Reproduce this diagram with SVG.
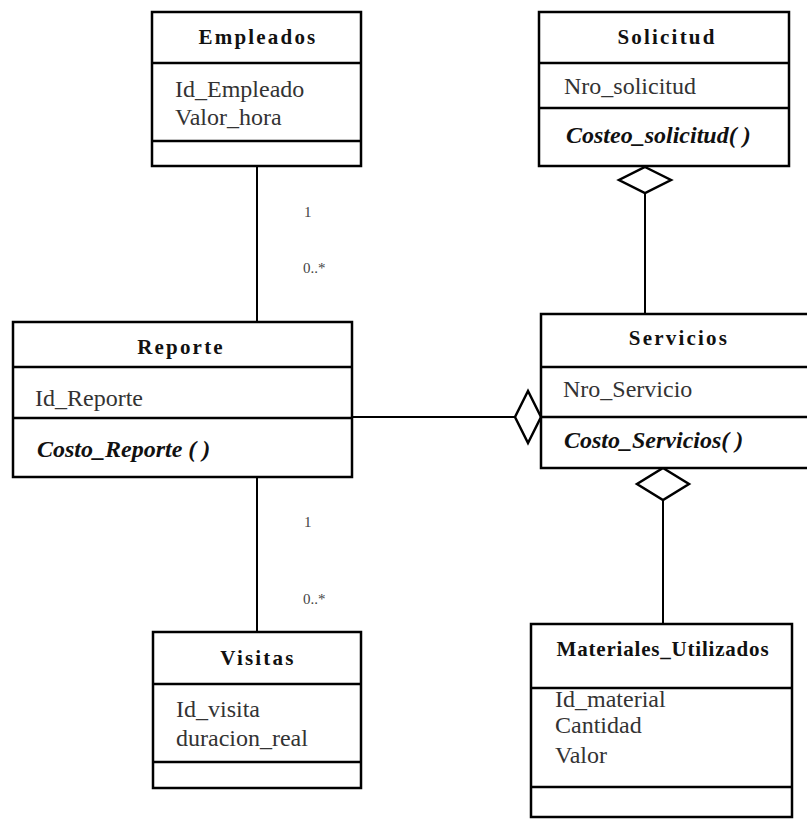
<svg xmlns="http://www.w3.org/2000/svg" width="807" height="819" viewBox="0 0 807 819">
<style>
.box{fill:#fff;stroke:#000;stroke-width:2.5}
.sep{stroke:#000;stroke-width:2.5}
.ln{stroke:#000;stroke-width:2;fill:none}
.dia{fill:#fff;stroke:#000;stroke-width:2.5}
.title{font-family:"Liberation Serif",serif;font-size:21px;font-weight:bold;letter-spacing:2.2px;text-anchor:middle;fill:#111}
.attr{font-family:"Liberation Serif",serif;font-size:24px;fill:#333}
.meth{font-family:"Liberation Serif",serif;font-size:24px;font-weight:bold;font-style:italic;fill:#111}
.mult{font-family:"Liberation Serif",serif;font-size:15px;fill:#444}
</style>
<rect width="807" height="819" fill="#fff"/>
<g id="connectors">
<line class="ln" x1="257" y1="166" x2="257" y2="322"/>
<line class="ln" x1="257" y1="477" x2="257" y2="632"/>
<line class="ln" x1="645" y1="192" x2="645" y2="314"/>
<line class="ln" x1="352" y1="417" x2="515" y2="417"/>
<line class="ln" x1="663" y1="500" x2="663" y2="624"/>
<polygon class="dia" points="645,167 671,180 645,193 619,180"/>
<polygon class="dia" points="515,417 528,391 541,417 528,443"/>
<polygon class="dia" points="663,468 689,484 663,500 637,484"/>
<text class="mult" x="304" y="217">1</text>
<text class="mult" x="303" y="273">0..*</text>
<text class="mult" x="304" y="527">1</text>
<text class="mult" x="303" y="604">0..*</text>
</g>
<g id="Empleados">
<rect class="box" x="152" y="12" width="209" height="154"/>
<line class="sep" x1="152" y1="63" x2="361" y2="63"/>
<line class="sep" x1="152" y1="141" x2="361" y2="141"/>
<text class="title" x="258" y="44">Empleados</text>
<text class="attr" x="175" y="97">Id_Empleado</text>
<text class="attr" x="175" y="125">Valor_hora</text>
</g>
<g id="Solicitud">
<rect class="box" x="539" y="12" width="250" height="154"/>
<line class="sep" x1="539" y1="63" x2="789" y2="63"/>
<line class="sep" x1="539" y1="108" x2="789" y2="108"/>
<text class="title" x="667" y="44">Solicitud</text>
<text class="attr" x="564" y="94">Nro_solicitud</text>
<text class="meth" x="566" y="143">Costeo_solicitud(  )</text>
</g>
<g id="Reporte">
<rect class="box" x="13" y="322" width="339" height="155"/>
<line class="sep" x1="13" y1="367" x2="352" y2="367"/>
<line class="sep" x1="13" y1="418" x2="352" y2="418"/>
<text class="title" x="181" y="354">Reporte</text>
<text class="attr" x="35" y="406">Id_Reporte</text>
<text class="meth" x="37" y="457">Costo_Reporte ( )</text>
</g>
<g id="Servicios">
<rect class="box" x="541" y="314" width="280" height="154"/>
<line class="sep" x1="541" y1="367" x2="821" y2="367"/>
<line class="sep" x1="541" y1="417" x2="821" y2="417"/>
<text class="title" x="679" y="345">Servicios</text>
<text class="attr" x="563" y="397">Nro_Servicio</text>
<text class="meth" x="564" y="448">Costo_Servicios( )</text>
</g>
<g id="Visitas">
<rect class="box" x="153" y="632" width="208" height="156"/>
<line class="sep" x1="153" y1="684" x2="361" y2="684"/>
<line class="sep" x1="153" y1="762" x2="361" y2="762"/>
<text class="title" x="258" y="665">Visitas</text>
<text class="attr" x="176" y="717">Id_visita</text>
<text class="attr" x="176" y="746">duracion_real</text>
</g>
<g id="Materiales_Utilizados">
<rect class="box" x="531" y="624" width="261" height="193"/>
<line class="sep" x1="531" y1="688" x2="792" y2="688"/>
<line class="sep" x1="531" y1="787" x2="792" y2="787"/>
<text class="title" x="663" y="656" style="letter-spacing:0.8px">Materiales_Utilizados</text>
<text class="attr" x="555" y="707">Id_material</text>
<text class="attr" x="555" y="733">Cantidad</text>
<text class="attr" x="555" y="763">Valor</text>
</g>
</svg>
